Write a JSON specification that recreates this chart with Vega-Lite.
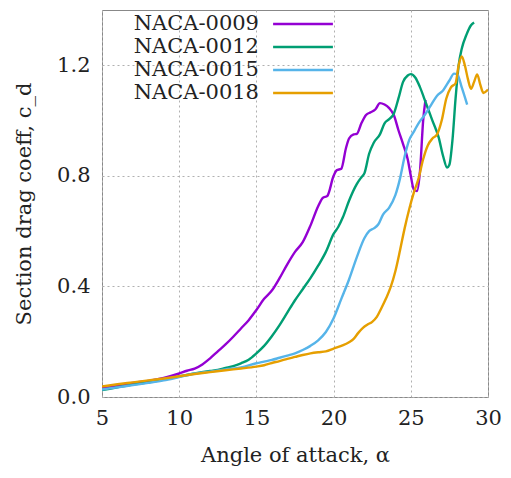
{
  "$schema": "https://vega.github.io/schema/vega-lite/v6.json",
  "width": 386,
  "height": 387,
  "autosize": {"type": "none"},
  "padding": {"left": 102, "top": 10, "right": 23, "bottom": 81},
  "background": "white",
  "config": {
    "font": "DejaVu Serif",
    "view": {"stroke": "#888888", "strokeWidth": 1},
    "axis": {
      "domain": false,
      "ticks": false,
      "grid": true,
      "gridDash": [2, 3],
      "gridColor": "#b0b0b0",
      "gridWidth": 1,
      "labelFont": "DejaVu Serif",
      "labelFontSize": 21,
      "labelColor": "#222222",
      "titleFont": "DejaVu Serif",
      "titleFontSize": 21,
      "titleFontWeight": "normal",
      "titleColor": "#222222"
    }
  },
  "datasets": {
    "naca": [
      {"a": 5, "cd": 0.033, "s": "NACA-0009"}, {"a": 6, "cd": 0.042, "s": "NACA-0009"}, {"a": 7, "cd": 0.051, "s": "NACA-0009"}, {"a": 8, "cd": 0.058, "s": "NACA-0009"}, {"a": 9, "cd": 0.069, "s": "NACA-0009"}, {"a": 10, "cd": 0.085, "s": "NACA-0009"}, {"a": 10.5, "cd": 0.095, "s": "NACA-0009"}, {"a": 11, "cd": 0.103, "s": "NACA-0009"}, {"a": 11.5, "cd": 0.118, "s": "NACA-0009"}, {"a": 12, "cd": 0.14, "s": "NACA-0009"}, {"a": 12.5, "cd": 0.165, "s": "NACA-0009"}, {"a": 13, "cd": 0.19, "s": "NACA-0009"}, {"a": 13.5, "cd": 0.218, "s": "NACA-0009"}, {"a": 14, "cd": 0.248, "s": "NACA-0009"}, {"a": 14.5, "cd": 0.278, "s": "NACA-0009"}, {"a": 15, "cd": 0.315, "s": "NACA-0009"}, {"a": 15.5, "cd": 0.355, "s": "NACA-0009"}, {"a": 16, "cd": 0.385, "s": "NACA-0009"}, {"a": 16.5, "cd": 0.43, "s": "NACA-0009"}, {"a": 17, "cd": 0.48, "s": "NACA-0009"}, {"a": 17.5, "cd": 0.525, "s": "NACA-0009"}, {"a": 18, "cd": 0.56, "s": "NACA-0009"}, {"a": 18.5, "cd": 0.62, "s": "NACA-0009"}, {"a": 19, "cd": 0.69, "s": "NACA-0009"}, {"a": 19.3, "cd": 0.72, "s": "NACA-0009"}, {"a": 19.6, "cd": 0.728, "s": "NACA-0009"}, {"a": 20, "cd": 0.8, "s": "NACA-0009"}, {"a": 20.2, "cd": 0.82, "s": "NACA-0009"}, {"a": 20.5, "cd": 0.826, "s": "NACA-0009"}, {"a": 20.8, "cd": 0.9, "s": "NACA-0009"}, {"a": 21, "cd": 0.935, "s": "NACA-0009"}, {"a": 21.3, "cd": 0.95, "s": "NACA-0009"}, {"a": 21.5, "cd": 0.952, "s": "NACA-0009"}, {"a": 21.8, "cd": 0.99, "s": "NACA-0009"}, {"a": 22.1, "cd": 1.02, "s": "NACA-0009"}, {"a": 22.4, "cd": 1.03, "s": "NACA-0009"}, {"a": 22.7, "cd": 1.04, "s": "NACA-0009"}, {"a": 23, "cd": 1.063, "s": "NACA-0009"}, {"a": 23.3, "cd": 1.058, "s": "NACA-0009"}, {"a": 23.6, "cd": 1.045, "s": "NACA-0009"}, {"a": 23.9, "cd": 1.02, "s": "NACA-0009"}, {"a": 24.2, "cd": 0.965, "s": "NACA-0009"}, {"a": 24.5, "cd": 0.915, "s": "NACA-0009"}, {"a": 24.8, "cd": 0.86, "s": "NACA-0009"}, {"a": 25, "cd": 0.8, "s": "NACA-0009"}, {"a": 25.2, "cd": 0.75, "s": "NACA-0009"}, {"a": 25.4, "cd": 0.745, "s": "NACA-0009"}, {"a": 25.6, "cd": 0.82, "s": "NACA-0009"}, {"a": 25.8, "cd": 1.0, "s": "NACA-0009"}, {"a": 25.95, "cd": 1.075, "s": "NACA-0009"},

      {"a": 5, "cd": 0.025, "s": "NACA-0012"}, {"a": 6, "cd": 0.035, "s": "NACA-0012"}, {"a": 7, "cd": 0.045, "s": "NACA-0012"}, {"a": 8, "cd": 0.053, "s": "NACA-0012"}, {"a": 9, "cd": 0.063, "s": "NACA-0012"}, {"a": 10, "cd": 0.074, "s": "NACA-0012"}, {"a": 11, "cd": 0.085, "s": "NACA-0012"}, {"a": 12, "cd": 0.094, "s": "NACA-0012"}, {"a": 12.5, "cd": 0.098, "s": "NACA-0012"}, {"a": 13, "cd": 0.105, "s": "NACA-0012"}, {"a": 13.5, "cd": 0.112, "s": "NACA-0012"}, {"a": 14, "cd": 0.122, "s": "NACA-0012"}, {"a": 14.5, "cd": 0.135, "s": "NACA-0012"}, {"a": 15, "cd": 0.158, "s": "NACA-0012"}, {"a": 15.5, "cd": 0.185, "s": "NACA-0012"}, {"a": 16, "cd": 0.22, "s": "NACA-0012"}, {"a": 16.5, "cd": 0.26, "s": "NACA-0012"}, {"a": 17, "cd": 0.305, "s": "NACA-0012"}, {"a": 17.5, "cd": 0.35, "s": "NACA-0012"}, {"a": 18, "cd": 0.39, "s": "NACA-0012"}, {"a": 18.5, "cd": 0.43, "s": "NACA-0012"}, {"a": 19, "cd": 0.475, "s": "NACA-0012"}, {"a": 19.5, "cd": 0.525, "s": "NACA-0012"}, {"a": 20, "cd": 0.59, "s": "NACA-0012"}, {"a": 20.3, "cd": 0.615, "s": "NACA-0012"}, {"a": 20.6, "cd": 0.65, "s": "NACA-0012"}, {"a": 21, "cd": 0.71, "s": "NACA-0012"}, {"a": 21.5, "cd": 0.77, "s": "NACA-0012"}, {"a": 21.8, "cd": 0.795, "s": "NACA-0012"}, {"a": 22, "cd": 0.81, "s": "NACA-0012"}, {"a": 22.3, "cd": 0.88, "s": "NACA-0012"}, {"a": 22.6, "cd": 0.92, "s": "NACA-0012"}, {"a": 23, "cd": 0.95, "s": "NACA-0012"}, {"a": 23.3, "cd": 0.99, "s": "NACA-0012"}, {"a": 23.6, "cd": 1.005, "s": "NACA-0012"}, {"a": 23.9, "cd": 1.025, "s": "NACA-0012"}, {"a": 24.2, "cd": 1.08, "s": "NACA-0012"}, {"a": 24.5, "cd": 1.14, "s": "NACA-0012"}, {"a": 24.8, "cd": 1.163, "s": "NACA-0012"}, {"a": 25, "cd": 1.168, "s": "NACA-0012"}, {"a": 25.3, "cd": 1.155, "s": "NACA-0012"}, {"a": 25.6, "cd": 1.12, "s": "NACA-0012"}, {"a": 26, "cd": 1.06, "s": "NACA-0012"}, {"a": 26.4, "cd": 1.0, "s": "NACA-0012"}, {"a": 26.8, "cd": 0.94, "s": "NACA-0012"}, {"a": 27.1, "cd": 0.87, "s": "NACA-0012"}, {"a": 27.35, "cd": 0.83, "s": "NACA-0012"}, {"a": 27.5, "cd": 0.84, "s": "NACA-0012"}, {"a": 27.7, "cd": 0.93, "s": "NACA-0012"}, {"a": 27.9, "cd": 1.08, "s": "NACA-0012"}, {"a": 28.1, "cd": 1.2, "s": "NACA-0012"}, {"a": 28.3, "cd": 1.26, "s": "NACA-0012"}, {"a": 28.6, "cd": 1.31, "s": "NACA-0012"}, {"a": 28.9, "cd": 1.345, "s": "NACA-0012"}, {"a": 29.1, "cd": 1.355, "s": "NACA-0012"},

      {"a": 5, "cd": 0.027, "s": "NACA-0015"}, {"a": 6, "cd": 0.035, "s": "NACA-0015"}, {"a": 7, "cd": 0.043, "s": "NACA-0015"}, {"a": 8, "cd": 0.051, "s": "NACA-0015"}, {"a": 9, "cd": 0.06, "s": "NACA-0015"}, {"a": 10, "cd": 0.072, "s": "NACA-0015"}, {"a": 11, "cd": 0.084, "s": "NACA-0015"}, {"a": 12, "cd": 0.092, "s": "NACA-0015"}, {"a": 13, "cd": 0.1, "s": "NACA-0015"}, {"a": 14, "cd": 0.107, "s": "NACA-0015"}, {"a": 15, "cd": 0.122, "s": "NACA-0015"}, {"a": 15.5, "cd": 0.128, "s": "NACA-0015"}, {"a": 16, "cd": 0.134, "s": "NACA-0015"}, {"a": 16.5, "cd": 0.142, "s": "NACA-0015"}, {"a": 17, "cd": 0.15, "s": "NACA-0015"}, {"a": 17.5, "cd": 0.158, "s": "NACA-0015"}, {"a": 18, "cd": 0.17, "s": "NACA-0015"}, {"a": 18.5, "cd": 0.185, "s": "NACA-0015"}, {"a": 19, "cd": 0.205, "s": "NACA-0015"}, {"a": 19.5, "cd": 0.235, "s": "NACA-0015"}, {"a": 20, "cd": 0.285, "s": "NACA-0015"}, {"a": 20.5, "cd": 0.355, "s": "NACA-0015"}, {"a": 21, "cd": 0.425, "s": "NACA-0015"}, {"a": 21.5, "cd": 0.505, "s": "NACA-0015"}, {"a": 22, "cd": 0.575, "s": "NACA-0015"}, {"a": 22.3, "cd": 0.6, "s": "NACA-0015"}, {"a": 22.6, "cd": 0.61, "s": "NACA-0015"}, {"a": 22.9, "cd": 0.625, "s": "NACA-0015"}, {"a": 23.2, "cd": 0.66, "s": "NACA-0015"}, {"a": 23.6, "cd": 0.685, "s": "NACA-0015"}, {"a": 24, "cd": 0.73, "s": "NACA-0015"}, {"a": 24.3, "cd": 0.79, "s": "NACA-0015"}, {"a": 24.6, "cd": 0.87, "s": "NACA-0015"}, {"a": 24.9, "cd": 0.93, "s": "NACA-0015"}, {"a": 25.2, "cd": 0.96, "s": "NACA-0015"}, {"a": 25.5, "cd": 0.99, "s": "NACA-0015"}, {"a": 25.9, "cd": 1.02, "s": "NACA-0015"}, {"a": 26.3, "cd": 1.055, "s": "NACA-0015"}, {"a": 26.7, "cd": 1.09, "s": "NACA-0015"}, {"a": 27.1, "cd": 1.11, "s": "NACA-0015"}, {"a": 27.5, "cd": 1.145, "s": "NACA-0015"}, {"a": 27.8, "cd": 1.17, "s": "NACA-0015"}, {"a": 28, "cd": 1.168, "s": "NACA-0015"}, {"a": 28.3, "cd": 1.12, "s": "NACA-0015"}, {"a": 28.65, "cd": 1.058, "s": "NACA-0015"},

      {"a": 5, "cd": 0.038, "s": "NACA-0018"}, {"a": 6, "cd": 0.046, "s": "NACA-0018"}, {"a": 7, "cd": 0.053, "s": "NACA-0018"}, {"a": 8, "cd": 0.06, "s": "NACA-0018"}, {"a": 9, "cd": 0.067, "s": "NACA-0018"}, {"a": 10, "cd": 0.075, "s": "NACA-0018"}, {"a": 11, "cd": 0.083, "s": "NACA-0018"}, {"a": 12, "cd": 0.09, "s": "NACA-0018"}, {"a": 13, "cd": 0.097, "s": "NACA-0018"}, {"a": 14, "cd": 0.103, "s": "NACA-0018"}, {"a": 15, "cd": 0.11, "s": "NACA-0018"}, {"a": 15.5, "cd": 0.115, "s": "NACA-0018"}, {"a": 16, "cd": 0.123, "s": "NACA-0018"}, {"a": 16.5, "cd": 0.13, "s": "NACA-0018"}, {"a": 17, "cd": 0.138, "s": "NACA-0018"}, {"a": 17.5, "cd": 0.145, "s": "NACA-0018"}, {"a": 18, "cd": 0.152, "s": "NACA-0018"}, {"a": 18.5, "cd": 0.158, "s": "NACA-0018"}, {"a": 19, "cd": 0.162, "s": "NACA-0018"}, {"a": 19.5, "cd": 0.165, "s": "NACA-0018"}, {"a": 20, "cd": 0.175, "s": "NACA-0018"}, {"a": 20.5, "cd": 0.185, "s": "NACA-0018"}, {"a": 21, "cd": 0.198, "s": "NACA-0018"}, {"a": 21.3, "cd": 0.21, "s": "NACA-0018"}, {"a": 21.6, "cd": 0.232, "s": "NACA-0018"}, {"a": 21.9, "cd": 0.25, "s": "NACA-0018"}, {"a": 22.2, "cd": 0.262, "s": "NACA-0018"}, {"a": 22.5, "cd": 0.272, "s": "NACA-0018"}, {"a": 22.8, "cd": 0.29, "s": "NACA-0018"}, {"a": 23.1, "cd": 0.322, "s": "NACA-0018"}, {"a": 23.4, "cd": 0.357, "s": "NACA-0018"}, {"a": 23.7, "cd": 0.398, "s": "NACA-0018"}, {"a": 24, "cd": 0.455, "s": "NACA-0018"}, {"a": 24.3, "cd": 0.53, "s": "NACA-0018"}, {"a": 24.6, "cd": 0.61, "s": "NACA-0018"}, {"a": 24.9, "cd": 0.68, "s": "NACA-0018"}, {"a": 25.2, "cd": 0.74, "s": "NACA-0018"}, {"a": 25.5, "cd": 0.79, "s": "NACA-0018"}, {"a": 25.8, "cd": 0.86, "s": "NACA-0018"}, {"a": 26.1, "cd": 0.91, "s": "NACA-0018"}, {"a": 26.4, "cd": 0.935, "s": "NACA-0018"}, {"a": 26.7, "cd": 0.95, "s": "NACA-0018"}, {"a": 27, "cd": 1.0, "s": "NACA-0018"}, {"a": 27.3, "cd": 1.08, "s": "NACA-0018"}, {"a": 27.6, "cd": 1.12, "s": "NACA-0018"}, {"a": 27.9, "cd": 1.135, "s": "NACA-0018"}, {"a": 28.1, "cd": 1.2, "s": "NACA-0018"}, {"a": 28.3, "cd": 1.232, "s": "NACA-0018"}, {"a": 28.5, "cd": 1.2, "s": "NACA-0018"}, {"a": 28.7, "cd": 1.15, "s": "NACA-0018"}, {"a": 28.9, "cd": 1.115, "s": "NACA-0018"}, {"a": 29.1, "cd": 1.14, "s": "NACA-0018"}, {"a": 29.3, "cd": 1.167, "s": "NACA-0018"}, {"a": 29.5, "cd": 1.13, "s": "NACA-0018"}, {"a": 29.7, "cd": 1.1, "s": "NACA-0018"}, {"a": 30, "cd": 1.112, "s": "NACA-0018"}
    ]
  },
  "data": {"name": "naca"},
  "mark": {"type": "line", "strokeWidth": 2.4, "interpolate": "monotone", "clip": true},
  "encoding": {
    "x": {
      "field": "a", "type": "quantitative",
      "scale": {"domain": [5, 30], "nice": false, "zero": false},
      "axis": {"values": [5, 10, 15, 20, 25, 30], "title": "Angle of attack, α", "labelPadding": 10, "titlePadding": 16, "labelFlush": false}
    },
    "y": {
      "field": "cd", "type": "quantitative",
      "scale": {"domain": [0, 1.4], "nice": false},
      "axis": {"values": [0, 0.4, 0.8, 1.2], "format": ".1f", "title": "Section drag coeff, c_d", "labelPadding": 12, "titlePadding": 22, "labelFlush": false}
    },
    "color": {
      "field": "s", "type": "nominal",
      "scale": {"domain": ["NACA-0009", "NACA-0012", "NACA-0015", "NACA-0018"], "range": ["#9400d3", "#009e73", "#56b4e9", "#e69f00"]},
      "legend": {
        "title": null,
        "orient": "none",
        "legendX": 188,
        "legendY": 1,
        "padding": 0,
        "symbolType": "M-2.6,0H2.6",
        "symbolSize": 529,
        "symbolStrokeWidth": 2.4,
        "symbolFillColor": "transparent",
        "labelFont": "DejaVu Serif",
        "labelFontSize": 21,
        "labelColor": "#222222",
        "labelAlign": "right",
        "labelOffset": -57,
        "labelLimit": 300,
        "rowPadding": 0
      }
    }
  }
}
